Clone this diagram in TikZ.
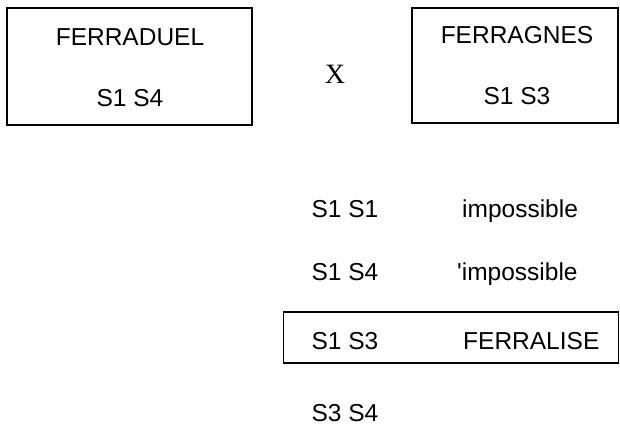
\documentclass[tikz,border=0pt]{standalone}
\usepackage{fontspec}
\newfontfamily\plainsans{Liberation Sans}
\newfontfamily\plainserif{Liberation Serif}
\begin{document}
\begin{tikzpicture}[x=1pt,y=-1pt,
  lbl/.style={font=\plainsans\fontsize{24.5}{28}\selectfont, inner sep=0pt, anchor=base},
  lblw/.style={lbl, anchor=base west},
  frame/.style={draw=black, line width=1.6pt}]
\useasboundingbox (0,0) rectangle (620,426);
% boxes
\node[frame, minimum width=245pt, minimum height=117pt, inner sep=0pt] (b1) at (129.5,66.5) {};
\node[frame, minimum width=206pt, minimum height=115pt, inner sep=0pt] (b2) at (515,65.5) {};
\node[frame, minimum width=335pt, minimum height=51pt, inner sep=0pt] (b3) at (451,337.5) {};
% texts
\node[lbl] (t1) at (130,45) {FERRADUEL};
\node[lbl] (t2) at (130,106) {S1 S4};
\node[lbl] (t3) at (517,43) {FERRAGNES};
\node[lbl] (t4) at (517,104) {S1 S3};
\node[font=\plainserif\fontsize{28}{32}\selectfont, inner sep=0pt, anchor=base] (x) at (335,83) {X};
\node[lbl] (r1) at (345,217) {S1 S1};
\node[lblw] (r1b) at (462,217) {impossible};
\node[lbl] (r2) at (345,280) {S1 S4};
\node[lblw] (r2b) at (457,280) {'impossible};
\node[lbl] (r3) at (345,349) {S1 S3};
\node[lblw] (r3b) at (463,349) {FERRALISE};
\node[lbl] (r4) at (345,421) {S3 S4};
\end{tikzpicture}
\end{document}
